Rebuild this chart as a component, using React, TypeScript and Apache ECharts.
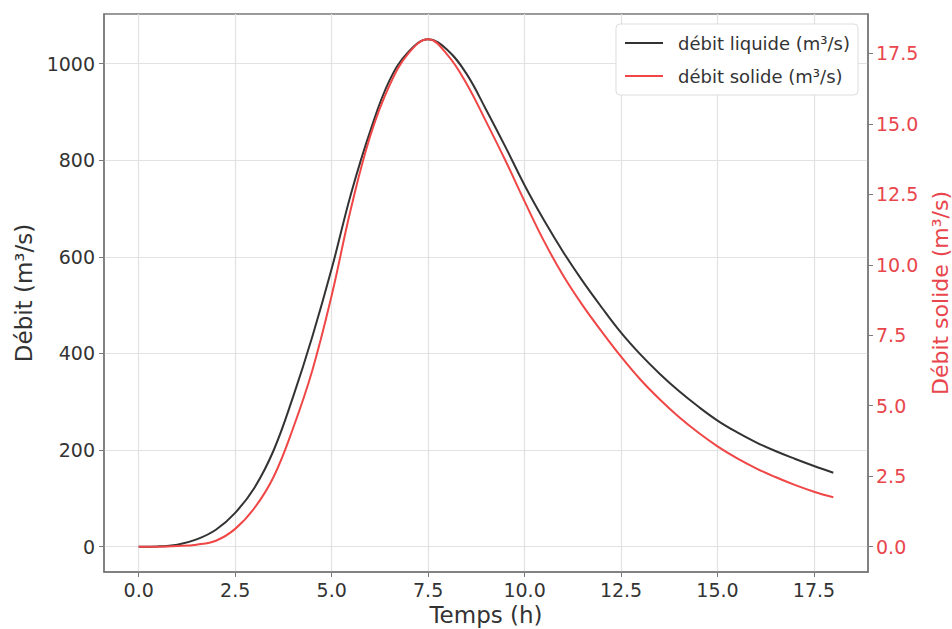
import React, { useEffect, useRef } from "react";
import * as echarts from "echarts";

const times = [
  0, 0.5, 1, 1.5, 2, 2.5, 3, 3.5, 4, 4.5, 5, 5.5, 6, 6.5, 7, 7.5, 8, 8.5, 9,
  9.5, 10, 10.5, 11, 11.5, 12, 12.5, 13, 13.5, 14, 14.5, 15, 15.5, 16, 16.5,
  17, 17.5, 18,
];

const debitLiquide = [
  0, 0.5, 4, 15, 35, 70, 122, 200, 310, 435, 575, 730, 860, 965, 1025, 1050,
  1028, 978, 905, 828, 748, 676, 610, 550, 495, 443, 398, 358, 322, 290, 261,
  237, 216, 198, 182, 167, 153,
];

const debitSolide = [
  0, 0, 0.02, 0.07, 0.21, 0.63, 1.37, 2.49, 4.2, 6.26, 8.91, 12.0, 14.57,
  16.37, 17.52, 18.0, 17.45, 16.42, 15.09, 13.71, 12.25, 10.85, 9.62, 8.57,
  7.63, 6.74, 5.93, 5.23, 4.6, 4.05, 3.56, 3.14, 2.78, 2.47, 2.19, 1.95, 1.75,
];

const xTicks = [0, 2.5, 5, 7.5, 10, 12.5, 15, 17.5];
const leftTicks = [0, 200, 400, 600, 800, 1000];
const rightTicks = [0, 2.5, 5, 7.5, 10, 12.5, 15, 17.5];

const FONT = "DejaVu Sans";
const RED = "#f04646";
const RED_TEXT = "#e8464c";
const DARK = "#333333";
const FRAME = "#7a7a7a";
const GRID = "#e2e2e2";

export default function App() {
  const ref = useRef<HTMLDivElement>(null);

  useEffect(() => {
    if (!ref.current) return;
    const chart = echarts.init(ref.current, undefined, { renderer: "svg" });
    const liq = times.map((t, i) => [t, debitLiquide[i]]);
    const sol = times.map((t, i) => [t, debitSolide[i]]);

    chart.setOption({
      animation: false,
      backgroundColor: "#ffffff",
      textStyle: { fontFamily: FONT },
      grid: {
        left: 104,
        right: 84,
        top: 14,
        bottom: 57,
        containLabel: false,
        outerBoundsMode: "none",
        show: true,
        borderColor: FRAME,
        borderWidth: 1.5,
        backgroundColor: "transparent",
      },
      legend: {
        right: 94,
        top: 24,
        orient: "vertical",
        icon: "rect",
        itemWidth: 38,
        itemHeight: 2,
        itemGap: 15,
        padding: [10, 8, 10, 9],
        backgroundColor: "#ffffff",
        borderColor: "#dddddd",
        borderWidth: 1,
        borderRadius: 4,
        textStyle: { fontFamily: FONT, fontSize: 18, color: "#333", padding: [0, 0, 0, 10] },
        data: ["débit liquide (m³/s)", "débit solide (m³/s)"],
      },
      xAxis: {
        type: "value",
        min: -0.9,
        max: 18.9,
        name: "Temps (h)",
        nameLocation: "middle",
        nameGap: 24,
        nameTextStyle: { fontFamily: FONT, fontSize: 23, color: DARK },
        axisLine: { show: true, onZero: false, lineStyle: { color: FRAME, width: 1.5 } },
        axisTick: {
          show: true,
          inside: false,
          length: 5,
          customValues: xTicks,
          lineStyle: { color: FRAME },
        },
        axisLabel: {
          customValues: xTicks,
          formatter: (v: number) => v.toFixed(1),
          fontFamily: FONT,
          fontSize: 19,
          color: DARK,
          margin: 8,
        },
        splitLine: { show: true, lineStyle: { color: GRID, width: 1.2 } },
      },
      yAxis: [
        {
          type: "value",
          min: -52.5,
          max: 1102.5,
          position: "left",
          name: "Débit (m³/s)",
          nameLocation: "middle",
          nameGap: 64,
          nameRotate: 90,
          nameTextStyle: { fontFamily: FONT, fontSize: 23, color: DARK },
          axisLine: { show: true, onZero: false, lineStyle: { color: FRAME, width: 1.5 } },
          axisTick: {
            show: true,
            length: 5,
            customValues: leftTicks,
            lineStyle: { color: FRAME },
          },
          axisLabel: {
            customValues: leftTicks,
            formatter: (v: number) => String(v),
            fontFamily: FONT,
            fontSize: 19,
            color: DARK,
            margin: 9,
          },
          splitLine: { show: true, lineStyle: { color: GRID, width: 1.2 } },
        },
        {
          type: "value",
          min: -0.9,
          max: 18.9,
          position: "right",
          name: "Débit solide (m³/s)",
          nameLocation: "middle",
          nameGap: 52,
          nameRotate: 90,
          nameTextStyle: { fontFamily: FONT, fontSize: 22, color: RED_TEXT },
          axisLine: { show: true, onZero: false, lineStyle: { color: FRAME, width: 1.5 } },
          axisTick: {
            show: true,
            length: 5,
            customValues: rightTicks,
            lineStyle: { color: FRAME },
          },
          axisLabel: {
            customValues: rightTicks,
            formatter: (v: number) => v.toFixed(1),
            fontFamily: FONT,
            fontSize: 19,
            color: RED_TEXT,
            margin: 8,
          },
          splitLine: { show: false },
        },
      ],
      series: [
        {
          name: "débit liquide (m³/s)",
          type: "line",
          yAxisIndex: 0,
          data: liq,
          smooth: 0.4,
          showSymbol: false,
          color: DARK,
          lineStyle: { color: DARK, width: 2 },
          z: 3,
        },
        {
          name: "débit solide (m³/s)",
          type: "line",
          yAxisIndex: 1,
          data: sol,
          smooth: 0.4,
          showSymbol: false,
          color: RED,
          lineStyle: { color: RED, width: 2 },
          z: 4,
        },
      ],
    });

    return () => chart.dispose();
  }, []);

  return (
    <div
      ref={ref}
      style={{ position: "fixed", left: 0, top: 0, width: 952, height: 629 }}
    />
  );
}
